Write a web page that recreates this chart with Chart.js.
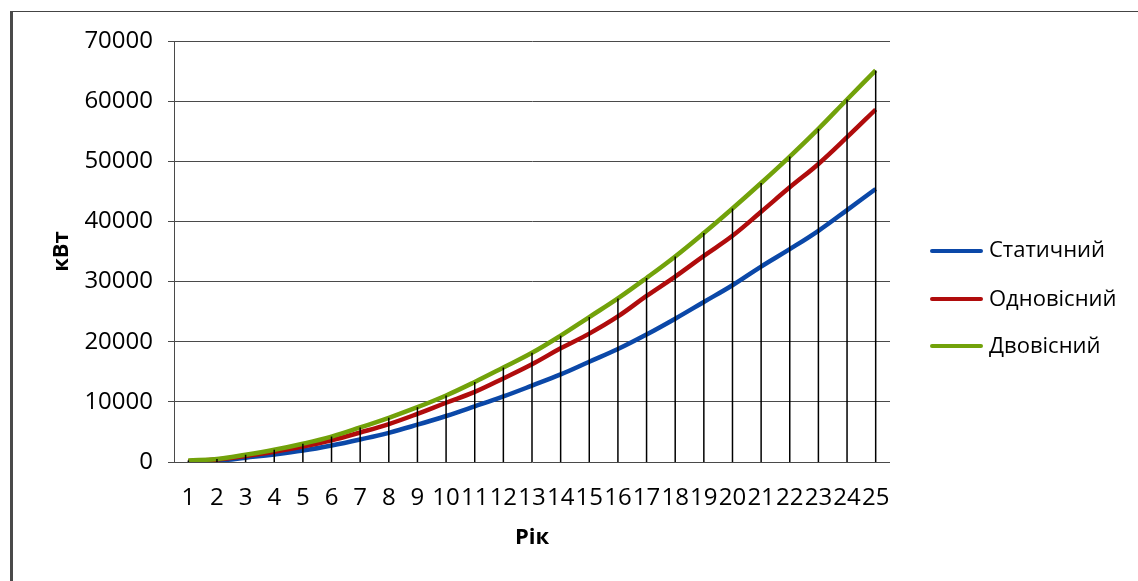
<!DOCTYPE html>
<html>
<head>
<meta charset="utf-8">
<script src="https://cdn.jsdelivr.net/npm/chart.js@4.4.1/dist/chart.umd.min.js"></script>
<style>
    html, body { margin: 0; padding: 0; background: #fff; }
    #wrap { position: relative; width: 1138px; height: 581px; overflow: hidden; }
    #frame { position: absolute; left: 10px; top: 11px; width: 1200px; height: 700px;
             border-left: 3px solid #4a4a4a; border-top: 1px solid #444; box-sizing: border-box; }
    #box { position: absolute; left: 0; top: 0; width: 1138px; height: 581px; }
    .lg-line { position: absolute; left: 930px; width: 53px; height: 4px; border-radius: 2px; }
    .lg-text { position: absolute; left: 989px; height: 30px; line-height: 30px;
               font-family: "Open Sans", sans-serif; font-size: 22px; color: #000; white-space: nowrap; }
</style>
</head>
<body>
<div id="wrap">
    <div id="frame"></div>
    <div id="box"><canvas id="energyChart"></canvas></div>
    <div id="legend"></div>
</div>
<script>
// roky
const years = ['1','2','3','4','5','6','7','8','9','10','11','12','13','14','15','16','17','18','19','20','21','22','23','24','25'];
// kWt po typam ustanovky
const staticVals = [60, 200, 720, 1250, 1900, 2750, 3750, 4850, 6200, 7650, 9250, 10900, 12700, 14560, 16670, 18780, 21200, 23830, 26610, 29390, 32500, 35390, 38440, 41890, 45390];
const singleAxisVals = [130, 400, 1000, 1700, 2550, 3600, 4900, 6300, 8000, 9850, 11650, 13900, 16250, 18900, 21350, 24200, 27610, 30830, 34280, 37610, 41610, 45670, 49560, 54000, 58610];
const dualAxisVals = [250, 500, 1200, 2030, 3040, 4230, 5740, 7350, 9110, 11060, 13300, 15700, 18150, 21000, 24100, 27200, 30600, 34170, 38060, 42150, 46390, 50780, 55390, 60280, 65110];
const seriesNames = ['Статичний', 'Одновісний', 'Двовісний'];
const yTicks = [0, 10000, 20000, 30000, 40000, 50000, 60000, 70000];

const COLORS = ['#0b48a8', '#b00c0c', '#72a20a'];
const FONT = '"Open Sans", sans-serif';

// vertykalni liniji vid najvyshchoji tochky do osi
const dropLines = {
    id: 'dropLines',
    afterDatasetsDraw(chart) {
        const { ctx, scales: { x, y } } = chart;
        const base = y.getPixelForValue(0);
        ctx.save();
        ctx.strokeStyle = '#000';
        ctx.lineWidth = 1.5;
        years.forEach((_, i) => {
            const top = Math.max(staticVals[i], singleAxisVals[i], dualAxisVals[i]);
            const px = x.getPixelForValue(i);
            ctx.beginPath();
            ctx.moveTo(px, y.getPixelForValue(top));
            ctx.lineTo(px, base);
            ctx.stroke();
        });
        ctx.restore();
    }
};

const lineSet = (label, data, color, order) => ({
    label, data, order,
    borderColor: color, backgroundColor: color,
    borderWidth: 4.5, tension: 0.4, pointRadius: 0, fill: false
});

new Chart(document.getElementById('energyChart'), {
    type: 'line',
    data: {
        labels: years,
        datasets: [
            lineSet(seriesNames[0], staticVals, COLORS[0], 3),
            lineSet(seriesNames[1], singleAxisVals, COLORS[1], 2),
            lineSet(seriesNames[2], dualAxisVals, COLORS[2], 1)
        ]
    },
    options: {
        responsive: true,
        maintainAspectRatio: false,
        animation: false,
        layout: { padding: { left: 10, top: 41, right: 248, bottom: 0 } },
        plugins: { legend: { display: false }, tooltip: { enabled: false } },
        scales: {
            x: {
                offset: true,
                grid: { display: false, drawTicks: false },
                border: { display: false },
                ticks: { color: '#000', padding: 22, maxRotation: 0, autoSkip: false, font: { family: FONT, size: 24 } },
                title: { display: true, text: 'Рік', color: '#000', padding: { top: 0, bottom: 30 }, font: { family: FONT, size: 22, weight: 'bold' } },
                afterFit(s) { s.height = 119; }
            },
            y: {
                min: 0, max: 70000,
                afterBuildTicks(s) { s.ticks = yTicks.map(v => ({ value: v })); },
                grid: { color: '#4a4a4a', lineWidth: 1, tickLength: 6 },
                border: { display: true, color: '#4a4a4a', width: 1 },
                ticks: { color: '#000', padding: 15, font: { family: FONT, size: 24 }, callback: v => String(v) },
                title: { display: true, text: 'кВт', color: '#000', padding: { top: 39, bottom: 0 }, font: { family: FONT, size: 22, weight: 'bold' } },
                afterFit(s) { s.width = 164; }
            }
        }
    },
    plugins: [dropLines]
});

// legenda
const legend = document.getElementById('legend');
const legendY = [250.7, 299, 346];
seriesNames.forEach((name, i) => {
    const ln = document.createElement('div');
    ln.className = 'lg-line';
    ln.style.top = (legendY[i] - 2) + 'px';
    ln.style.background = COLORS[i];
    const tx = document.createElement('div');
    tx.className = 'lg-text';
    tx.style.top = (legendY[i] - 17.5) + 'px';
    tx.textContent = name;
    legend.appendChild(ln);
    legend.appendChild(tx);
});
</script>
</body>
</html>
